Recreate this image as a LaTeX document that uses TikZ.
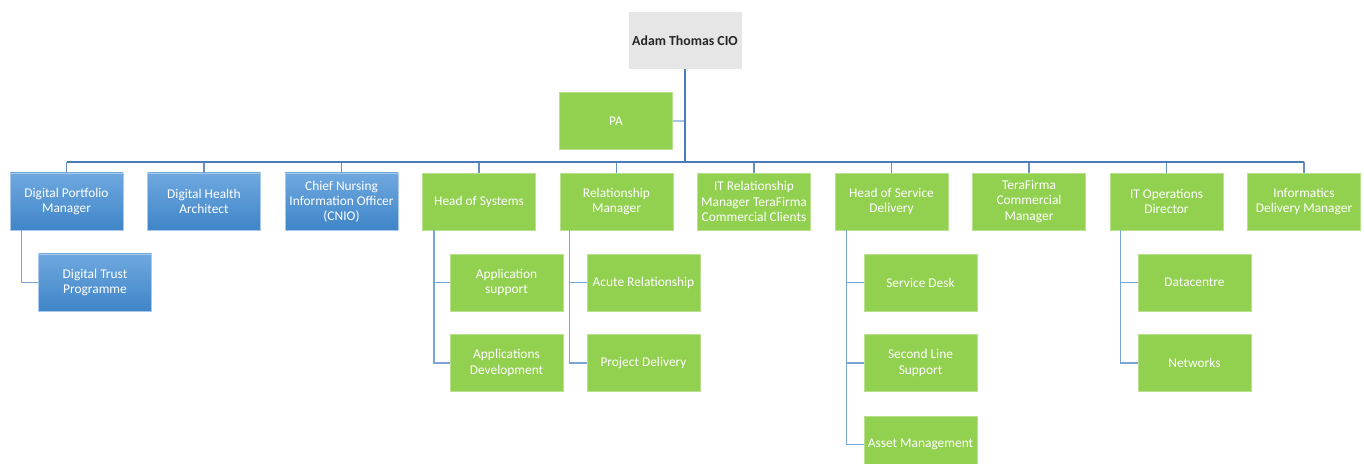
\documentclass[tikz,border=0pt]{standalone}
\usepackage{fontspec}
\setmainfont{Carlito}
\usetikzlibrary{positioning}

\definecolor{boxgreen}{HTML}{92D050}
\definecolor{greenedge}{HTML}{B9E08E}
\definecolor{bluetop}{HTML}{6FA8DF}
\definecolor{bluebot}{HTML}{3F85C8}
\definecolor{blueedge}{HTML}{A9C8EA}
\definecolor{ciogray}{HTML}{E6E6E6}
\definecolor{busblue}{HTML}{4A7DB8}
\definecolor{linkblue}{HTML}{7AA6D6}
\definecolor{palink}{HTML}{A7C4E4}

\begin{document}
\begin{tikzpicture}[x=0.5pt, y=-0.5pt,
  every node/.style={font=\fontsize{6.7}{7.6}\selectfont, align=center, inner sep=0pt},
  post/.style={minimum width=56.5pt, minimum height=28.5pt, text=white},
  greenpost/.style={post, fill=boxgreen, draw=greenedge, line width=0.4pt},
  bluepost/.style={post, top color=bluetop, bottom color=bluebot, draw=blueedge, line width=0.4pt},
  bus/.style={draw=busblue, line width=1pt},
  drop/.style={draw=busblue!85!white, line width=0.7pt},
  link/.style={draw=linkblue, line width=0.75pt}]
  \clip (0,0) rectangle (1364,464);
  \fill[white] (0,0) rectangle (1364,464);

  % CIO and PA (top)
  \node[post, fill=ciogray, text=black!85, font=\fontsize{6.9}{8}\selectfont\bfseries] (cio) at (685,40.5) {Adam Thomas CIO};
  \node[greenpost] (pa) at (616,121) {PA};
  \coordinate (bus) at (685,162);

  % Direct reports (middle row)
  \node[bluepost] (dpm) at (66.5,201.5) {Digital Portfolio\\Manager};
  \node[bluepost] (dha) at (204,201.5) {Digital Health\\Architect};
  \node[bluepost] (cnio) at (341.5,201.5) {Chief Nursing\\Information Officer\\(CNIO)};
  \node[greenpost] (hos) at (479,201.5) {Head of Systems};
  \node[greenpost] (relm) at (616.5,201.5) {Relationship\\Manager};
  \node[greenpost] (itrm) at (754,201.5) {IT Relationship\\Manager TeraFirma\\Commercial Clients};
  \node[greenpost] (hsd) at (891.5,201.5) {Head of Service\\Delivery};
  \node[greenpost] (tfcm) at (1029,201.5) {TeraFirma\\Commercial\\Manager};
  \node[greenpost] (itod) at (1166.5,201.5) {IT Operations\\Director};
  \node[greenpost] (idm) at (1304,201.5) {Informatics\\Delivery Manager};

  % Teams (lower rows)
  \node[bluepost] (dtp) at (95,282.5) {Digital Trust\\Programme};
  \node[greenpost] (appsup) at (506.5,282.5) {Application\\support};
  \node[greenpost] (appdev) at (506.5,363) {Applications\\Development};
  \node[greenpost] (acute) at (643.5,282.5) {Acute Relationship};
  \node[greenpost] (projd) at (643.5,363) {Project Delivery};
  \node[greenpost] (sdesk) at (920.5,282.5) {Service Desk};
  \node[greenpost] (sline) at (920.5,363) {Second Line\\Support};
  \node[greenpost] (asset) at (920.5,444.5) {Asset Management};
  \node[greenpost] (dcentre) at (1194.5,282.5) {Datacentre};
  \node[greenpost] (netw) at (1194.5,363) {Networks};

  % Bus and trunk
  \draw[drop] (dpm.north) -- (dpm.north |- bus);
  \draw[drop] (dha.north) -- (dha.north |- bus);
  \draw[drop] (cnio.north) -- (cnio.north |- bus);
  \draw[drop] (hos.north) -- (hos.north |- bus);
  \draw[drop] (relm.north) -- (relm.north |- bus);
  \draw[drop] (itrm.north) -- (itrm.north |- bus);
  \draw[drop] (hsd.north) -- (hsd.north |- bus);
  \draw[drop] (tfcm.north) -- (tfcm.north |- bus);
  \draw[drop] (itod.north) -- (itod.north |- bus);
  \draw[drop] (idm.north) -- (idm.north |- bus);
  \draw[bus] (dpm.north |- bus) -- (idm.north |- bus);
  \draw[draw=palink, line width=1pt] (pa.east) -- (pa.east -| cio.south);
  \draw[bus] (cio.south) -- (bus);

  % Team links
  \draw[link] ([xshift=6pt]dpm.south west) |- (dtp.west);
  \draw[link] ([xshift=6pt]hos.south west) |- (appsup.west);
  \draw[link] ([xshift=6pt]hos.south west) |- (appdev.west);
  \draw[link] ([xshift=5pt]relm.south west) |- (acute.west);
  \draw[link] ([xshift=5pt]relm.south west) |- (projd.west);
  \draw[link] ([xshift=6pt]hsd.south west) |- (sdesk.west);
  \draw[link] ([xshift=6pt]hsd.south west) |- (sline.west);
  \draw[link] ([xshift=6pt]hsd.south west) |- (asset.west);
  \draw[link] ([xshift=5.5pt]itod.south west) |- (dcentre.west);
  \draw[link] ([xshift=5.5pt]itod.south west) |- (netw.west);
\end{tikzpicture}
\end{document}
